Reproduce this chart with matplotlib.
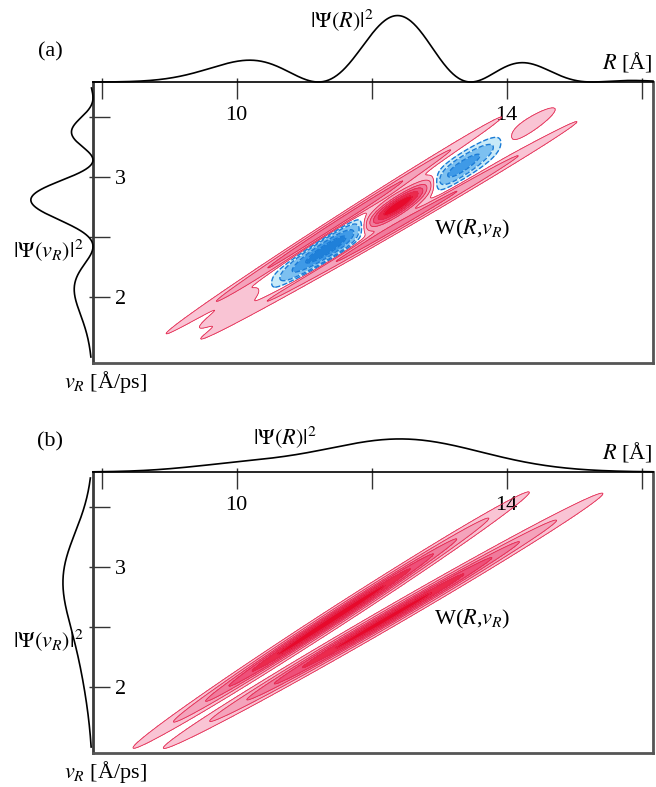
import numpy as np
import matplotlib
matplotlib.use('Agg')
import matplotlib.pyplot as plt

plt.rcParams['font.family'] = 'serif'
plt.rcParams['font.serif'] = ['Liberation Serif', 'DejaVu Serif']
plt.rcParams['mathtext.fontset'] = 'stix'

W_PX, H_PX = 656, 787

# axes ranges and ticks
r_lim = (7.87, 16.17)
v_lim = (1.45, 3.79)
r_ticks = [8, 10, 12, 14, 16]
r_labels = ['', '10', '', '14', '']
v_ticks = [2.0, 2.5, 3.0, 3.5]
v_labels = ['2', '', '3', '']

# the two stretched ridges of W(R, v_R) for each panel:
# centre R, centre v, slope dv/dR, width along R, width across v, amplitude
ridge_slope = [0.362, 0.325]
ridge_amp = [1.0, 0.92]
ridge_R = {'a': [11.45, 12.31], 'b': [11.40, 12.17]}
ridge_v = {'a': [2.60, 2.57], 'b': [2.557, 2.551]}
ridge_sR = {'a': [1.2, 1.35], 'b': [1.2, 1.35]}
ridge_sv = {'a': 0.03, 'b': 0.04}

# interference stripe of panel (a): envelope centre / widths,
# red maximum at R0, phase = a*d + b*d^2 + c*d^3
cross_R = 12.05
cross_sR = 1.1
cross_sv = 0.055
cross_amp = 2.6
fringe_R0 = 12.42
fringe_phase = [2.95, 0.15, -0.07]

# filled contour levels (fraction of the maximum)
pos_levels = [0.05, 0.15, 0.3, 0.45, 0.62, 0.8, 1.01]
pos_colors = ['#f9c4d4', '#f4a3bb', '#f07b9c', '#ee5079', '#eb2a4d', '#e70a2c']
neg_levels = [-1.01, -0.6, -0.35, -0.15, -0.05]
neg_colors = ['#1f80d9', '#3f9ae7', '#7cc0f0', '#c8eaf8']

# marginal densities, heights in pixels above their axis line
# (a) coherent: envelope (centre, width, height) times fringe (x0, a, b)
topa_env = [12.1, 1.4, 68]
topa_fringe = [12.42, 2.808, 0.175]
lefta_env = [2.70, 0.47, 64]
lefta_fringe = [2.82, 8.94, 2.73]
# (b) incoherent: smooth humps
topb_pos = [10.0, 12.43]
topb_h = [6, 33]
topb_w = [0.8, 1.19]
leftb_pos = [2.95, 2.35]
leftb_h = [25, 11]
leftb_w = [0.37, 0.45]


def ridge(R, V, i, panel):
    u = R - ridge_R[panel][i]
    w = V - ridge_v[panel][i] - ridge_slope[i] * u
    sr = ridge_sR[panel][i]
    sv = ridge_sv[panel]
    return ridge_amp[i] * np.exp(-u**2 / (2 * sr**2) - w**2 / (2 * sv**2))


def wigner(panel):
    R, V = np.meshgrid(np.linspace(r_lim[0], r_lim[1], 1000),
                       np.linspace(v_lim[0], v_lim[1], 700))
    W = ridge(R, V, 0, panel) + ridge(R, V, 1, panel)
    if panel == 'a':
        # mid line between the two ridges
        slope = np.mean(ridge_slope)
        v_mid = np.mean(ridge_v['a']) + slope * (cross_R - np.mean(ridge_R['a']))
        u = R - cross_R
        w = V - v_mid - slope * u
        env = cross_amp * np.sqrt(ridge_amp[0] * ridge_amp[1]) * \
            np.exp(-u**2 / (2 * cross_sR**2) - w**2 / (2 * cross_sv**2))
        d = R - fringe_R0
        a, b, c = fringe_phase
        W = W + env * np.cos(a * d + b * d**2 + c * d**3)
    return R, V, W / W.max()


def fringe_curve(x, env, fr):
    c, s, h = env
    x0, a, b = fr
    d = x - x0
    return h * np.exp(-(x - c)**2 / (2 * s**2)) * np.cos((a * d + b * d**2) / 2)**2


def hump_curve(x, pos, h, w):
    y = np.zeros_like(x)
    for p, hh, ww in zip(pos, h, w):
        y += hh * np.exp(-(x - p)**2 / (2 * ww**2))
    return y


def ftext(x, y, s, **kw):
    fig.text(x / W_PX, 1 - y / H_PX, s, fontsize=16, va='center', **kw)


def draw_panel(top_px, panel, top_curve, left_curve):
    left = 93 / W_PX
    width = 560 / W_PX
    height = 281 / H_PX
    bottom = 1 - (top_px + 281) / H_PX
    ax = fig.add_axes([left, bottom, width, height])

    R, V, W = wigner(panel)
    ax.contourf(R, V, W, levels=pos_levels, colors=pos_colors)
    ax.contour(R, V, W, levels=pos_levels[:-1], colors='#e3284f', linewidths=0.6)
    if panel == 'a':
        ax.contourf(R, V, W, levels=neg_levels, colors=neg_colors)
        ax.contour(R, V, W, levels=neg_levels[1:], colors='#1b7bd6',
                   linewidths=1.0, linestyles='--')

    ax.set_xlim(r_lim)
    ax.set_ylim(v_lim)
    ax.xaxis.tick_top()
    ax.set_xticks(r_ticks)
    ax.set_xticklabels(r_labels)
    ax.set_yticks(v_ticks)
    ax.set_yticklabels(v_labels)
    ax.set_xticks(r_ticks, minor=True)
    ax.set_yticks(v_ticks, minor=True)
    ax.xaxis.remove_overlapping_locs = False
    ax.yaxis.remove_overlapping_locs = False
    ax.tick_params(which='major', direction='in', length=12, width=1.0,
                   color='#333333', labelsize=16)
    ax.tick_params(axis='x', which='major', pad=-31)
    ax.tick_params(axis='y', which='major', pad=-24)
    ax.tick_params(which='minor', direction='out', length=3, width=1.0, color='#333333')
    ax.spines['top'].set_linewidth(1.2)
    ax.spines['top'].set_color('black')
    ax.spines['left'].set_linewidth(2.0)
    ax.spines['left'].set_color('#3a3a3a')
    for s in ['right', 'bottom']:
        ax.spines[s].set_linewidth(2.0)
        ax.spines[s].set_color('#555555')

    # top marginal |Psi(R)|^2
    axt = fig.add_axes([left, 1 - top_px / H_PX, width, 72 / H_PX])
    axt.set_xlim(r_lim)
    axt.set_ylim(0, 72)
    axt.axis('off')
    r = np.linspace(r_lim[0], r_lim[1], 600)
    axt.plot(r, top_curve(r), color='black', lw=1.2, clip_on=False)

    # left marginal |Psi(v_R)|^2
    axl = fig.add_axes([20 / W_PX, bottom, 73 / W_PX, height])
    axl.set_ylim(v_lim)
    axl.set_xlim(73, 0)
    axl.axis('off')
    v = np.linspace(v_lim[0] + 0.05, v_lim[1] - 0.05, 600)
    axl.plot(left_curve(v), v, color='black', lw=1.2, clip_on=False)


fig = plt.figure(figsize=(W_PX / 100, H_PX / 100), dpi=100)

draw_panel(82, 'a',
           lambda x: fringe_curve(x, topa_env, topa_fringe),
           lambda x: fringe_curve(x, lefta_env, lefta_fringe))
draw_panel(472, 'b',
           lambda x: hump_curve(x, topb_pos, topb_h, topb_w),
           lambda x: hump_curve(x, leftb_pos, leftb_h, leftb_w))

for y0, lab in [(0, '(a)'), (390, '(b)')]:
    ftext(50, y0 + 52, lab, ha='center')
    ftext(653, y0 + 62, r'$R$ [Å]', ha='right')
    ftext(48, y0 + 250, r'$|\Psi(v_R)|^2$', ha='center')
    ftext(106, y0 + 382, r'$v_R$ [Å/ps]', ha='center')
    ftext(472, y0 + 229, r'W($R$,$v_R$)', ha='center')
ftext(342, 20, r'$|\Psi(R)|^2$', ha='center')
ftext(285, 437, r'$|\Psi(R)|^2$', ha='center')

fig.savefig('out.png', dpi=100)
